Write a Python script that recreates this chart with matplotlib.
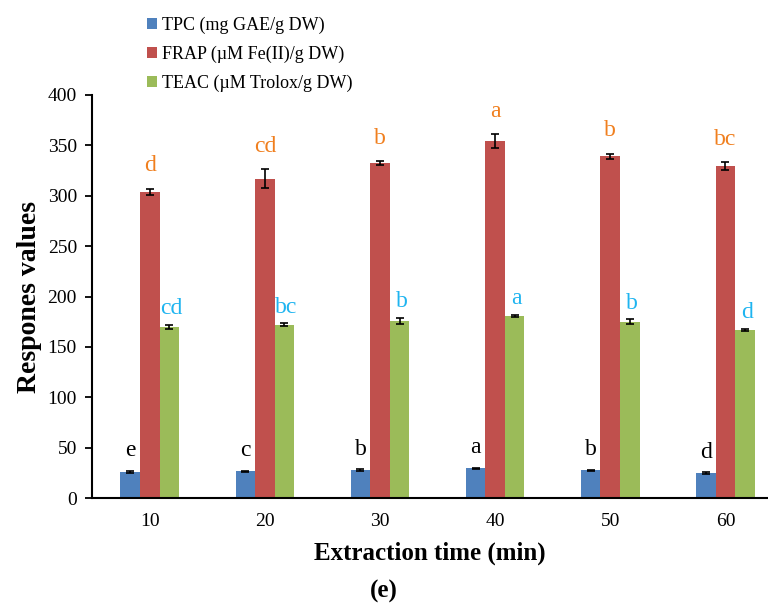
import matplotlib.pyplot as plt
import numpy as np

plt.rcParams['font.family'] = ['Liberation Serif', 'DejaVu Serif']

times = ['10', '20', '30', '40', '50', '60']
tpc = [26, 26.5, 28, 29.5, 27.5, 25]
tpc_err = [0.8, 0.8, 0.6, 0.8, 0.6, 0.6]
frap = [304, 317, 332, 354, 339, 329]
frap_err = [3, 9, 2, 7, 2.5, 4]
teac = [170, 172, 176, 181, 175, 167]
teac_err = [2, 1.5, 3, 1, 2.5, 1]

tpc_lab = ['e', 'c', 'b', 'a', 'b', 'd']
frap_lab = ['d', 'cd', 'b', 'a', 'b', 'bc']
teac_lab = ['cd', 'bc', 'b', 'a', 'b', 'd']

names = ['TPC (mg GAE/g DW)', 'FRAP (\u00b5M Fe(II)/g DW)', 'TEAC (\u00b5M Trolox/g DW)']
colors = ['#4F81BD', '#C0504D', '#9BBB59']
lab_colors = ['black', '#F07F1E', '#1EB4F0']
lab_offsets = [7, 9, 4]

fig = plt.figure(figsize=(7.68, 6.12), dpi=100)
ax = fig.add_axes([0.12, 0.186, 0.88, 0.659])

x = np.arange(len(times))
w = 0.17
series = [(tpc, tpc_err, tpc_lab), (frap, frap_err, frap_lab), (teac, teac_err, teac_lab)]
for i, (vals, errs, labs) in enumerate(series):
    pos = x + (i - 1) * w
    ax.bar(pos, vals, w, color=colors[i], label=names[i], zorder=2)
    ax.errorbar(pos, vals, yerr=errs, fmt='none', ecolor='black', elinewidth=1.2,
                capsize=3, capthick=1.2, zorder=3)
    for p, v, e, t in zip(pos, vals, errs, labs):
        dx = 1.5 if i == 2 else 0
        ax.annotate(t, (p, v + e), xytext=(dx, lab_offsets[i]), textcoords='offset points',
                    ha='center', va='bottom', fontsize=17, color=lab_colors[i])

ax.set_xlim(-0.5, 5.37)
ax.set_ylim(0, 400)
ax.set_yticks(range(0, 401, 50))
ax.set_xticks(x)
ax.set_xticklabels(times)
ax.tick_params(axis='y', direction='out', length=5, width=1.3, labelsize=14, pad=6)
ax.tick_params(axis='x', length=0, labelsize=14, pad=11)
ax.spines['top'].set_visible(False)
ax.spines['right'].set_visible(False)
ax.spines['left'].set_linewidth(1.5)
ax.spines['bottom'].set_linewidth(1.5)

ax.set_ylabel('Respones values', fontsize=20, fontweight='bold', labelpad=4)
ax.set_xlabel('Extraction time (min)', fontsize=18, fontweight='bold', labelpad=8)

fig.legend(loc='upper left', bbox_to_anchor=(0.17, 1.0), frameon=False, fontsize=13,
           handlelength=0.55, handleheight=0.55, handletextpad=0.3, labelspacing=0.65)

fig.text(0.5, 0.033, '(e)', ha='center', va='center', fontsize=18, fontweight='bold')

fig.savefig('out.png', dpi=100)
